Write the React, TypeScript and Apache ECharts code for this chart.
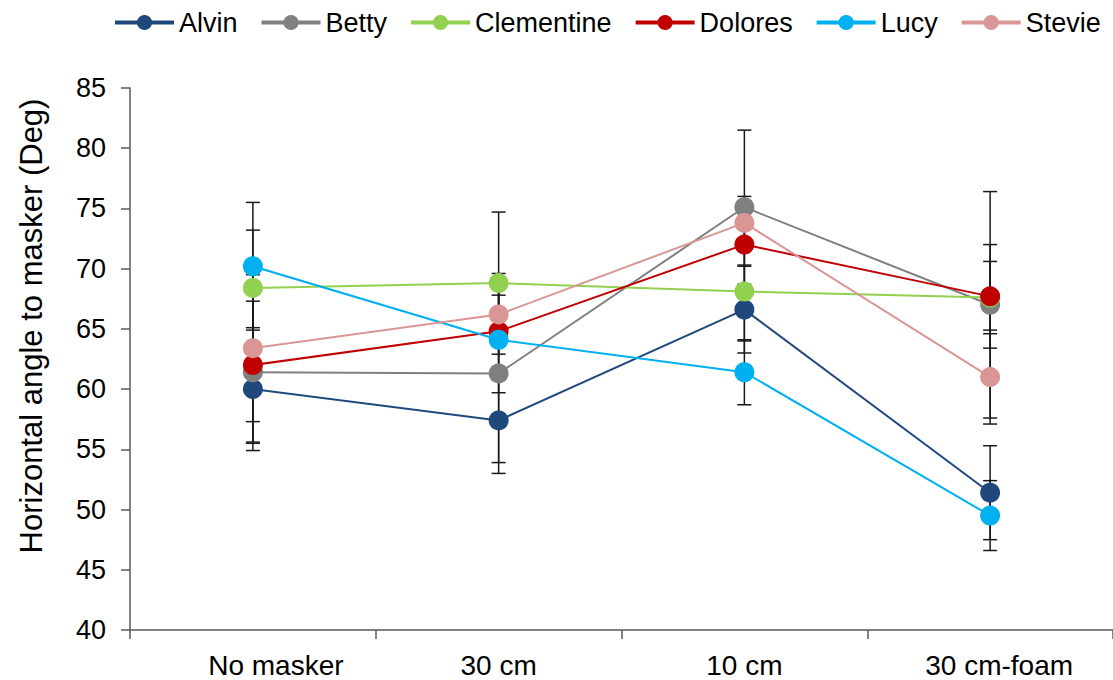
import React, { useEffect, useRef } from "react";
import * as echarts from "echarts";

const categories = ["No masker", "30 cm", "10 cm", "30 cm-foam"];
const seriesNames = ["Alvin", "Betty", "Clementine", "Dolores", "Lucy", "Stevie"];
const colors = ["#1F497D", "#808080", "#92D050", "#C00000", "#00B0F0", "#DA9694"];

const alvin = [60.0, 57.4, 66.6, 51.4];
const betty = [61.4, 61.3, 75.1, 67.0];
const clementine = [68.4, 68.8, 68.1, 67.6];
const dolores = [62.0, 64.8, 72.0, 67.7];
const lucy = [70.2, 64.1, 61.4, 49.5];
const stevie = [63.4, 66.2, 73.8, 61.0];

const alvinErr = [5.1, 3.5, 3.6, 3.9];
const bettyErr = [5.9, 8.3, 6.4, 9.4];
const clementineErr = [4.8, 5.9, 4.1, 3.0];
const doloresErr = [6.4, 3.0, 1.7, 4.3];
const lucyErr = [5.3, 4.4, 2.7, 2.9];
const stevieErr = [6.1, 2.6, 2.2, 3.9];

const yTicks = { min: 40, max: 85, interval: 5 };
const yTitle = "Horizontal angle to masker (Deg)";

const FONT = "'Liberation Sans', Arial, Helvetica, sans-serif";

export default function App() {
  const ref = useRef<HTMLDivElement>(null);

  useEffect(() => {
    if (!ref.current) return;
    const chart = echarts.init(ref.current, undefined, { renderer: "svg" });
    const values = [alvin, betty, clementine, dolores, lucy, stevie];
    const errs = [alvinErr, bettyErr, clementineErr, doloresErr, lucyErr, stevieErr];

    const errData: number[][] = [];
    values.forEach((vals, s) => {
      vals.forEach((v, i) => {
        errData.push([i, v - errs[s][i], v + errs[s][i]]);
      });
    });

    const lineSeries = seriesNames.map((name, s) => ({
      name,
      type: "line",
      data: values[s],
      symbol: "circle",
      symbolSize: 20,
      z: 3,
      itemStyle: { color: colors[s] },
      lineStyle: { color: colors[s], width: 2 },
      emphasis: { disabled: true },
    }));

    const labelShift: Record<string, string> = { "No masker": "a", "30 cm-foam": "b" };

    const option: any = {
      animation: false,
      textStyle: { fontFamily: FONT },
      legend: {
        left: 113,
        top: 9,
        padding: 0,
        itemWidth: 59,
        itemHeight: 19,
        itemGap: 22,
        data: seriesNames,
        textStyle: { fontSize: 27, color: "#000", fontFamily: FONT },
        lineStyle: { width: 4 },
      },
      grid: { left: 130, top: 88, width: 988, bottom: 50, containLabel: false },
      graphic: [
        {
          type: "text",
          x: 31,
          y: 326,
          rotation: Math.PI / 2,
          style: {
            text: yTitle,
            fontSize: 31,
            fontFamily: FONT,
            fill: "#000",
            align: "center",
            verticalAlign: "middle",
          },
        },
      ],
      xAxis: {
        type: "category",
        data: categories,
        axisLine: { lineStyle: { color: "#595959", width: 1.5 } },
        axisTick: { show: true, interval: 0, length: 9, lineStyle: { color: "#595959", width: 1.5 } },
        axisLabel: {
          interval: 0,
          hideOverlap: false,
          fontSize: 28,
          color: "#000",
          margin: 21,
          fontFamily: FONT,
          formatter: (v: string) => (labelShift[v] ? `{${labelShift[v]}|${v}}` : v),
          rich: {
            a: { fontSize: 28, color: "#000", fontFamily: FONT, padding: [0, 0, 0, 46] },
            b: { fontSize: 28, color: "#000", fontFamily: FONT, padding: [0, 0, 0, 18] },
          },
        },
      },
      yAxis: {
        type: "value",
        min: yTicks.min,
        max: yTicks.max,
        interval: yTicks.interval,
        axisLine: { show: true, lineStyle: { color: "#595959", width: 1.5 } },
        axisTick: { show: true, length: 9, lineStyle: { color: "#595959", width: 1.5 } },
        splitLine: { show: false },
        axisLabel: { fontSize: 27, color: "#000", margin: 24, fontFamily: FONT },
      },
      series: [
        {
          type: "custom",
          name: "errors",
          z: 1,
          silent: true,
          data: errData,
          encode: { x: 0, y: [1, 2] },
          renderItem: (params: any, api: any) => {
            const idx = api.value(0);
            const lo = api.coord([idx, api.value(1)]);
            const hi = api.coord([idx, api.value(2)]);
            const hw = 7;
            const style = { stroke: "#1a1a1a", lineWidth: 1.5 };
            return {
              type: "group",
              children: [
                { type: "line", shape: { x1: hi[0], y1: hi[1], x2: lo[0], y2: lo[1] }, style },
                { type: "line", shape: { x1: hi[0] - hw, y1: hi[1], x2: hi[0] + hw, y2: hi[1] }, style },
                { type: "line", shape: { x1: lo[0] - hw, y1: lo[1], x2: lo[0] + hw, y2: lo[1] }, style },
              ],
            };
          },
        },
        ...lineSeries,
      ],
    };
    chart.setOption(option);
    return () => chart.dispose();
  }, []);

  return (
    <div
      ref={ref}
      style={{ position: "fixed", left: 0, top: 0, width: 1113, height: 680, background: "#fff" }}
    />
  );
}
